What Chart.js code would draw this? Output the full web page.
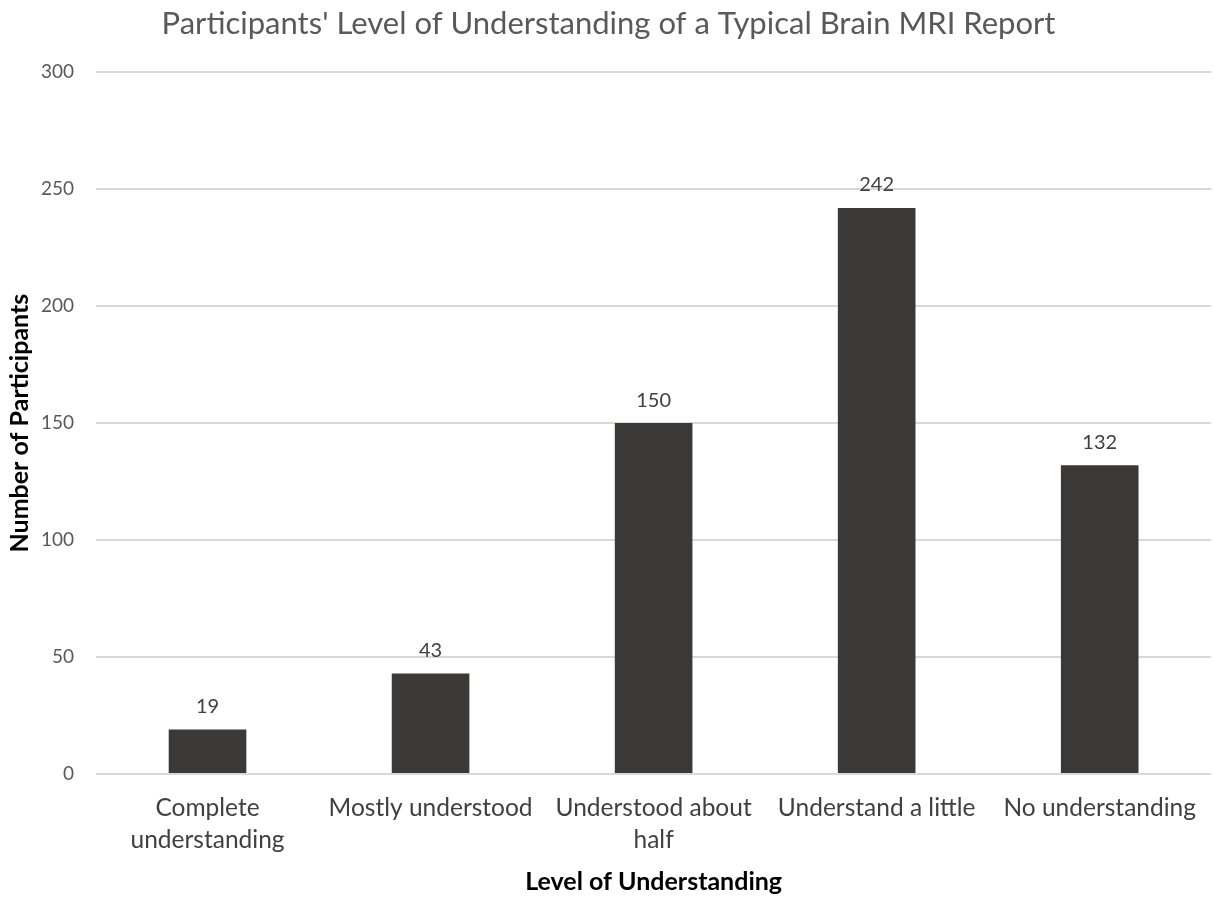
<!DOCTYPE html>
<html>
<head>
<meta charset="utf-8">
<title>Participants' Level of Understanding</title>
<script src="https://cdn.jsdelivr.net/npm/chart.js@4.4.1/dist/chart.umd.min.js"></script>
<style>
  html, body { margin: 0; padding: 0; background: #fff; }
  #wrap { width: 1214px; height: 897px; }
</style>
</head>
<body>
<div id="wrap"><canvas id="mriChart"></canvas></div>
<script>
// Chart data
const categories = [
    'Complete understanding',
    'Mostly understood',
    'Understood about half',
    'Understand a little',
    'No understanding'
];
// How each category label wraps onto lines
const categoryLines = [
    ['Complete', 'understanding'],
    ['Mostly understood'],
    ['Understood about', 'half'],
    ['Understand a little'],
    ['No understanding']
];
const participants = [19, 43, 150, 242, 132];
const yTicks = [0, 50, 100, 150, 200, 250, 300];

const FONT = 'Lato, "Noto Sans", sans-serif';

// Draws the value above each bar
const valueLabels = {
    id: 'valueLabels',
    afterDatasetsDraw(chart) {
        const ctx = chart.ctx;
        const meta = chart.getDatasetMeta(0);
        ctx.save();
        ctx.font = '20px ' + FONT;
        ctx.fillStyle = '#404040';
        ctx.textAlign = 'center';
        ctx.textBaseline = 'middle';
        meta.data.forEach((bar, i) => {
            ctx.fillText(participants[i], bar.x, bar.y - 23);
        });
        ctx.restore();
    }
};

const ctx = document.getElementById('mriChart');
new Chart(ctx, {
    type: 'bar',
    data: {
        labels: categoryLines,
        datasets: [{
            label: 'Participants',
            data: participants,
            backgroundColor: '#3a3938',
            borderWidth: 0,
            barPercentage: 0.348,
            categoryPercentage: 1.0
        }]
    },
    options: {
        responsive: true,
        maintainAspectRatio: false,
        animation: false,
        layout: { padding: { left: 0, right: -3, top: 0, bottom: 0 } },
        plugins: {
            legend: { display: false },
            tooltip: { enabled: false },
            title: {
                display: true,
                text: "Participants' Level of Understanding of a Typical Brain MRI Report",
                color: '#595959',
                font: { family: FONT, size: 31, weight: 'normal', lineHeight: 1.2 },
                padding: { top: 5, bottom: 30 }
            }
        },
        scales: {
            x: {
                grid: { display: false, drawTicks: false },
                border: { display: false },
                ticks: {
                    color: '#404040',
                    font: { family: FONT, size: 24.5, lineHeight: 1.3 },
                    padding: 18,
                    maxRotation: 0,
                    autoSkip: false
                },
                title: {
                    display: true,
                    text: 'Level of Understanding',
                    color: '#000',
                    font: { family: FONT, size: 25, weight: 'bold', lineHeight: 1.2 },
                    padding: { top: 0, bottom: 0 }
                },
                afterFit(scale) { scale.height = 123; }
            },
            y: {
                min: 0,
                max: 300,
                afterBuildTicks(scale) {
                    scale.ticks = yTicks.map(v => ({ value: v }));
                },
                grid: { color: '#d9d9d9', lineWidth: 2, drawTicks: false },
                border: { display: false },
                ticks: {
                    color: '#595959',
                    font: { family: FONT, size: 19 },
                    padding: 22
                },
                title: {
                    display: true,
                    text: 'Number of Participants',
                    color: '#000',
                    font: { family: FONT, size: 25, weight: 'bold', lineHeight: 1.2 },
                    padding: { top: 5, bottom: 0 }
                },
                afterFit(scale) { scale.width = 96; }
            }
        }
    },
    plugins: [valueLabels]
});
</script>
</body>
</html>
